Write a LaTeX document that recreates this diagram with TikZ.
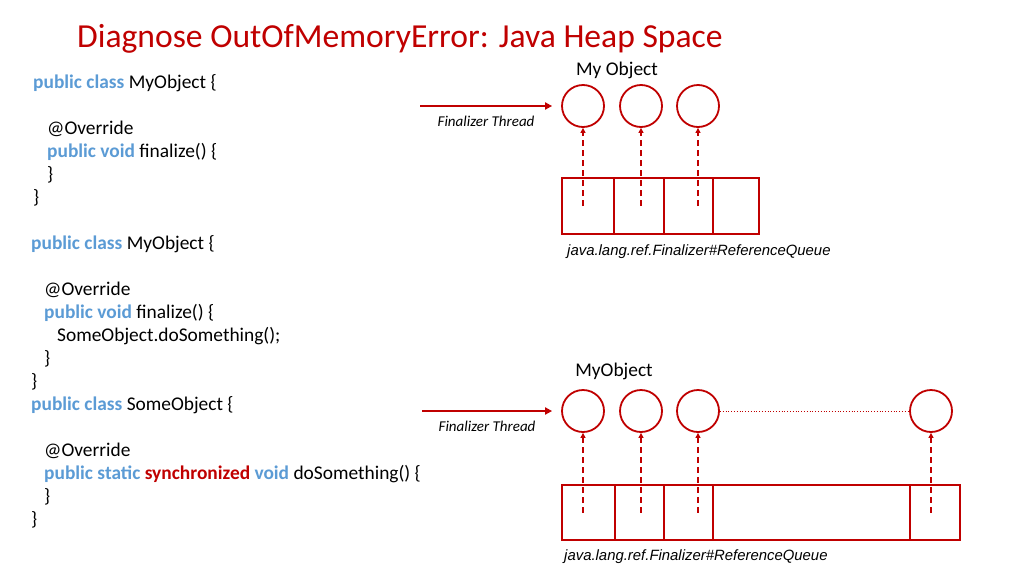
\documentclass[tikz,border=0pt]{standalone}
\usepackage{fontspec}
\setmainfont{Carlito}
\newfontfamily\arialfont{Liberation Sans}
\usepackage{xcolor}
\usetikzlibrary{arrows.meta,positioning}
\definecolor{slidered}{RGB}{192,0,0}
\definecolor{kwblue}{RGB}{91,155,213}
\newcommand{\kw}[1]{\textcolor{kwblue}{\textbf{#1}}}
\newcommand{\hot}[1]{\textcolor{slidered}{\textbf{#1}}}

\begin{document}
\begin{tikzpicture}[
  x=1pt, y=-1pt,
  >=Latex,
  code/.style={anchor=base west, inner sep=0pt, font=\fontsize{19.4}{22}\selectfont},
  heading/.style={inner sep=0pt, font=\fontsize{19.4}{22}\selectfont},
  obj/.style={draw=slidered, circle, line width=1.8pt, minimum size=42pt, inner sep=0pt},
  cell/.style={draw=slidered, line width=2pt, minimum height=56pt, inner sep=0pt},
  thread/.style={->, slidered, line width=2.6pt, >={Triangle[length=7pt,width=7pt]}},
  ref/.style={->, slidered, line width=2pt, dash pattern=on 6pt off 4pt, >={Triangle[length=5pt,width=5pt]}},
  caption/.style={anchor=west, inner sep=0pt, font=\arialfont\itshape\fontsize{14.9}{17}\selectfont},
  tlabel/.style={midway, below=9pt, inner sep=0pt, text=black, font=\itshape\fontsize{15}{17}\selectfont}
]
\useasboundingbox[fill=white] (0,0) rectangle (1024,576);

\node[anchor=base west, inner sep=0pt, text=slidered, font=\fontsize{33.6}{38}\selectfont] (title) at (77,47) {Diagnose OutOfMemoryError: Java Heap Space};

% code listing
\node[code] (a1) at (33,88) {\kw{public class} MyObject \{};
\node[code] (a2) at (47,134) {@Override};
\node[code] (a3) at (47,157) {\kw{public void} finalize() \{};
\node[code] (a4) at (47,180) {\}};
\node[code] (a5) at (33,203) {\}};
\node[code] (b1) at (31,249) {\kw{public class} MyObject \{};
\node[code] (b2) at (44,295) {@Override};
\node[code] (b3) at (44,318) {\kw{public void} finalize() \{};
\node[code] (b4) at (57,341) {SomeObject.doSomething();};
\node[code] (b5) at (44,364) {\}};
\node[code] (b6) at (31,387) {\}};
\node[code] (s1) at (31,410) {\kw{public class} SomeObject \{};
\node[code] (s2) at (44,456) {@Override};
\node[code] (s3) at (44,479) {\kw{public static} \hot{synchronized} \kw{void} doSomething() \{};
\node[code] (s4) at (44,502) {\}};
\node[code] (s5) at (31,525) {\}};

% first queue
\node[heading] (top) at (617,70) {My Object};
\node[obj] (o1) at (583,106) {};
\node[obj] (o2) at (641,106) {};
\node[obj] (o3) at (698,106) {};
\node[cell, minimum width=52pt] (q1) at (588,206) {};
\node[cell, minimum width=50pt] (q2) at (639,206) {};
\node[cell, minimum width=49pt] (q3) at (688.5,206) {};
\node[cell, minimum width=46pt] (q4) at (736,206) {};
\node[caption] (qtop) at (567,252) {java.lang.ref.Finalizer\#ReferenceQueue};
\coordinate (ftop) at (420,106);
\draw[thread] (ftop) -- ([xshift=-9pt]o1.west) node[tlabel] {Finalizer Thread};
\foreach \o/\q in {o1/q1,o2/q2,o3/q3}
  \draw[ref] (\o |- \q) -- (\o.south);

% second queue
\node[heading] (bottom) at (614,371) {MyObject};
\node[obj] (p1) at (583,411) {};
\node[obj] (p2) at (641,411) {};
\node[obj] (p3) at (698,411) {};
\node[obj] (p4) at (931,411) {};
\node[cell, minimum height=55pt, minimum width=53pt] (r1) at (588.5,512.5) {};
\node[cell, minimum height=55pt, minimum width=49pt] (r2) at (639.5,512.5) {};
\node[cell, minimum height=55pt, minimum width=49pt] (r3) at (688.5,512.5) {};
\node[cell, minimum height=55pt, minimum width=197pt] (r4) at (811.5,512.5) {};
\node[cell, minimum height=55pt, minimum width=50pt] (r5) at (935,512.5) {};
\node[caption] (qbot) at (564,557) {java.lang.ref.Finalizer\#ReferenceQueue};
\coordinate (fbot) at (422,411);
\draw[thread] (fbot) -- ([xshift=-9pt]p1.west) node[tlabel] {Finalizer Thread};
\draw[slidered, line width=0.8pt, dotted] (p3) -- (p4);
\foreach \o/\q in {p1/r1,p2/r2,p3/r3,p4/r5}
  \draw[ref] (\o |- \q) -- (\o.south);
\end{tikzpicture}
\end{document}
